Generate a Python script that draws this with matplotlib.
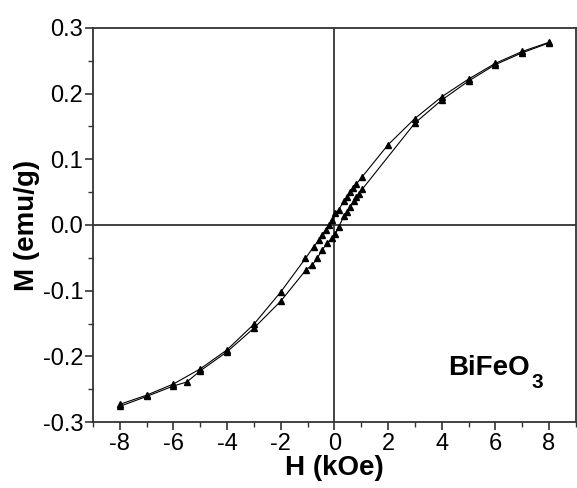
import matplotlib
matplotlib.use("Agg")
import matplotlib.pyplot as plt
from matplotlib.ticker import MultipleLocator

plt.rcParams['font.family'] = ['Liberation Sans', 'DejaVu Sans']

# descending branch (+8 -> -8 kOe)
h_down = [8, 7, 6, 5, 4, 3, 2, 1.03, 0.81, 0.69, 0.59, 0.47, 0.35, 0.16, 0.04,
          -0.09, -0.21, -0.33, -0.46, -0.58, -0.77, -1.08, -2, -3, -4, -5, -6, -7, -8]
m_down = [0.278, 0.264, 0.246, 0.222, 0.195, 0.162, 0.122, 0.073, 0.062, 0.056,
          0.050, 0.042, 0.036, 0.023, 0.018, 0.008, 0.0, -0.008, -0.015, -0.023,
          -0.033, -0.051, -0.102, -0.151, -0.190, -0.219, -0.242, -0.259, -0.273]

# ascending branch (-8 -> +8 kOe)
h_up = [-8, -7, -6, -5.5, -5, -4, -3, -2, -1.05, -0.83, -0.64, -0.46, -0.27, -0.09,
        0.04, 0.16, 0.35, 0.47, 0.59, 0.72, 0.82, 0.9, 1.03, 3, 4, 5, 6, 7, 8]
m_up = [-0.276, -0.261, -0.245, -0.239, -0.222, -0.193, -0.157, -0.116, -0.068,
        -0.061, -0.051, -0.038, -0.028, -0.020, -0.013, -0.003, 0.013, 0.020,
        0.028, 0.036, 0.042, 0.047, 0.054, 0.155, 0.190, 0.219, 0.244, 0.262, 0.277]

x_ticks = list(range(-8, 9, 2))
y_ticks = [-0.3, -0.2, -0.1, 0.0, 0.1, 0.2, 0.3]

fig = plt.figure(figsize=(5.77, 4.88), dpi=100)
ax = fig.add_axes([0.161, 0.135, 0.837, 0.808])

ax.axhline(0, color='#333333', lw=1.3, zorder=1)
ax.axvline(0, color='#333333', lw=1.3, zorder=1)

ax.plot(h_down, m_down, color='black', lw=0.8, marker='^', ms=5, zorder=3)
ax.plot(h_up, m_up, color='black', lw=0.8, marker='^', ms=5, zorder=3)

ax.set_xlim(-9, 9)
ax.set_ylim(-0.3, 0.3)
ax.set_xticks(x_ticks)
ax.set_xticklabels([str(v) for v in x_ticks])
ax.set_yticks(y_ticks)
ax.set_yticklabels([f'{v:.1f}' for v in y_ticks])
ax.xaxis.set_minor_locator(MultipleLocator(1))
ax.yaxis.set_minor_locator(MultipleLocator(0.05))
ax.tick_params(which='both', direction='out', top=False, right=False,
               labelsize=17, color='#333333')
ax.tick_params(which='major', length=6, width=1.2)
ax.tick_params(axis='y', which='major', pad=1)
ax.tick_params(axis='x', which='major', pad=2)
ax.tick_params(which='minor', length=3.5, width=1.0)
for s in ax.spines.values():
    s.set_color('#333333')
    s.set_linewidth(1.3)

ax.set_xlabel('H (kOe)', fontsize=20, fontweight='bold', labelpad=0)
ax.set_ylabel('M (emu/g)', fontsize=20, fontweight='bold', labelpad=2)

# sample label with a lowered subscript
t = ax.text(4.24, -0.228, 'BiFeO', fontsize=20, fontweight='bold')
ax.annotate('3', xy=(1, 0), xycoords=t, xytext=(1, -8), textcoords='offset points',
            fontsize=15, fontweight='bold', va='bottom', ha='left')

fig.savefig('out.png', dpi=100)
